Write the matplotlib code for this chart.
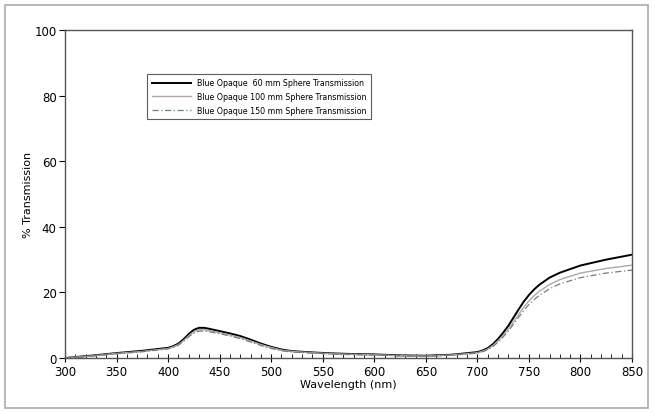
import matplotlib.pyplot as plt
from matplotlib.patches import Rectangle
from matplotlib.ticker import MultipleLocator

# wavelength grid (nm)
wavelength = [300, 325, 350, 375, 400, 405, 410, 415, 420, 425, 430, 435, 440, 450, 460,
              470, 480, 490, 500, 510, 520, 540, 560, 580, 600, 625, 650, 675, 700, 705,
              710, 715, 720, 725, 730, 735, 740, 745, 750, 755, 760, 770, 780, 800, 825, 850]

t_60 = [0.0, 0.7, 1.5, 2.2, 3.1, 3.6, 4.4, 5.7, 7.3, 8.6, 9.2, 9.2, 8.9, 8.2, 7.5,
        6.7, 5.6, 4.4, 3.4, 2.6, 2.1, 1.7, 1.4, 1.2, 1.1, 0.8, 0.7, 1.0, 1.8, 2.3,
        3.0, 4.2, 5.8, 7.7, 9.8, 12.3, 14.8, 17.2, 19.2, 20.9, 22.3, 24.5, 26.0, 28.2, 30.0, 31.5]
t_100 = [0.0, 0.6, 1.4, 2.0, 2.9, 3.4, 4.1, 5.3, 6.8, 8.0, 8.6, 8.6, 8.3, 7.7, 7.0,
         6.2, 5.2, 4.1, 3.2, 2.4, 2.0, 1.6, 1.3, 1.1, 1.0, 0.7, 0.6, 0.9, 1.6, 2.1,
         2.7, 3.8, 5.2, 6.9, 8.8, 11.0, 13.3, 15.5, 17.4, 19.0, 20.3, 22.4, 23.9, 25.9, 27.3, 28.3]
t_150 = [0.0, 0.6, 1.3, 1.9, 2.8, 3.3, 3.9, 5.1, 6.5, 7.6, 8.2, 8.2, 8.0, 7.4, 6.7,
         5.9, 4.9, 3.8, 2.9, 2.2, 1.8, 1.5, 1.2, 1.0, 0.9, 0.7, 0.6, 0.8, 1.5, 1.9,
         2.5, 3.5, 4.8, 6.4, 8.2, 10.3, 12.4, 14.5, 16.3, 17.8, 19.1, 21.1, 22.6, 24.5, 25.9, 26.8]

labels = ['Blue Opaque  60 mm Sphere Transmission',
          'Blue Opaque 100 mm Sphere Transmission',
          'Blue Opaque 150 mm Sphere Transmission']

fig = plt.figure(figsize=(6.55, 4.14), dpi=100)
ax = fig.add_axes([65 / 655, 55 / 414, 567 / 655, 328 / 414])

ax.plot(wavelength, t_60, color='black', lw=1.4, label=labels[0])
ax.plot(wavelength, t_100, color='#b0a8a8', lw=1.0, label=labels[1])
ax.plot(wavelength, t_150, color='#6f8080', lw=0.9, ls=(0, (5, 2, 1, 2)), label=labels[2])

ax.set_xlim(300, 850)
ax.set_ylim(0, 100)
ax.xaxis.set_major_locator(MultipleLocator(50))
ax.xaxis.set_minor_locator(MultipleLocator(10))
ax.yaxis.set_major_locator(MultipleLocator(20))
ax.tick_params(axis='x', which='major', direction='inout', length=6, width=0.8, labelsize=8.5, pad=2)
ax.tick_params(axis='x', which='minor', direction='in', length=3, width=0.6)
ax.tick_params(axis='y', which='major', direction='out', length=4, width=0.8, labelsize=8.5, pad=2)
for sp in ax.spines.values():
    sp.set_color('#555555')
    sp.set_linewidth(1.0)

ax.set_xlabel('Wavelength (nm)', fontsize=8, labelpad=1)
ax.set_ylabel('% Transmission', fontsize=8, labelpad=1)

leg = ax.legend(loc='upper left', bbox_to_anchor=(0.145, 0.866), borderaxespad=0, fontsize=5.7,
                frameon=True, fancybox=False, edgecolor='#333333', handlelength=5,
                borderpad=0.55, labelspacing=0.6)
leg.get_frame().set_linewidth(0.8)

# light frame round the whole figure
fig.patches.append(Rectangle((5 / 655, 5 / 414), 643 / 655, 403 / 414, transform=fig.transFigure,
                             fill=False, edgecolor='#aaaaaa', lw=1.2))

fig.savefig('out.png', dpi=100)
